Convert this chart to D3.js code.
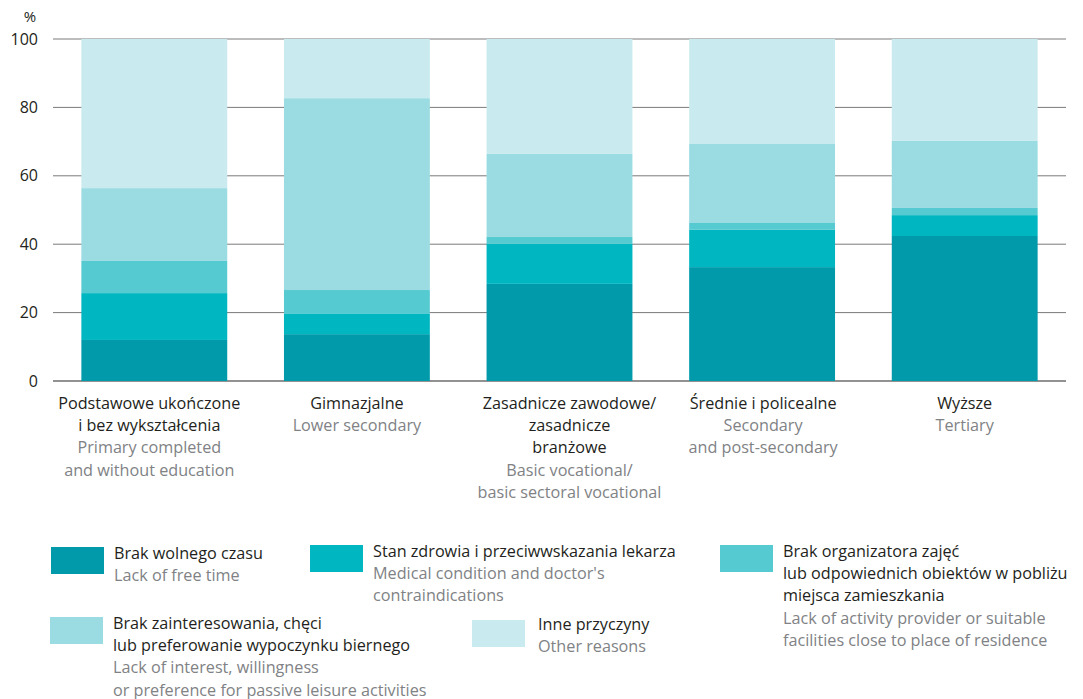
<!DOCTYPE html>
<html>
<head>
<meta charset="utf-8">
<script src="https://cdn.jsdelivr.net/npm/d3@7"></script>
<style>
  body { margin: 0; background: #fff; }
  svg { display: block; font-family: "Open Sans", sans-serif; }
</style>
</head>
<body>
<div id="vis"></div>
<script>
// categories (education level)
const categoriesPl = [
  ["Podstawowe ukończone", "i bez wykształcenia"],
  ["Gimnazjalne"],
  ["Zasadnicze zawodowe/", "zasadnicze", "branżowe"],
  ["Średnie i policealne"],
  ["Wyższe"]
];
const categoriesEn = [
  ["Primary completed", "and without education"],
  ["Lower secondary"],
  ["Basic vocational/", "basic sectoral vocational"],
  ["Secondary", "and post-secondary"],
  ["Tertiary"]
];

// series values, % (bottom to top)
const noFreeTime   = [12.0, 13.7, 28.4, 33.3, 42.4];
const health       = [13.7,  5.9, 11.7, 10.9,  6.1];
const noProvider   = [ 9.4,  7.0,  2.0,  2.0,  2.1];
const noInterest   = [21.3, 56.1, 24.3, 23.1, 19.6];
const otherReasons = [43.6, 17.3, 33.6, 30.7, 29.8];

const seriesKeys = ['noFreeTime', 'health', 'noProvider', 'noInterest', 'otherReasons'];
const seriesPl = [
  ["Brak wolnego czasu"],
  ["Stan zdrowia i przeciwwskazania lekarza"],
  ["Brak organizatora zajęć", "lub odpowiednich obiektów w pobliżu", "miejsca zamieszkania"],
  ["Brak zainteresowania, chęci", "lub preferowanie wypoczynku biernego"],
  ["Inne przyczyny"]
];
const seriesEn = [
  ["Lack of free time"],
  ["Medical condition and doctor's", "contraindications"],
  ["Lack of activity provider or suitable", "facilities close to place of residence"],
  ["Lack of interest, willingness", "or preference for passive leisure activities"],
  ["Other reasons"]
];

const yTicks = [0, 20, 40, 60, 80, 100];

const colors = ['#009aab', '#00b6c1', '#55cad1', '#9bdce2', '#c9ebef'];

const width = 1083;
const height = 699;

const svg = d3.select('#vis')
  .append('svg')
    .attr('width', width)
    .attr('height', height);

const rows = categoriesPl.map((c, i) => ({
  idx: i,
  noFreeTime: noFreeTime[i],
  health: health[i],
  noProvider: noProvider[i],
  noInterest: noInterest[i],
  otherReasons: otherReasons[i]
}));

const x = d3.scaleBand()
  .domain(rows.map(d => d.idx))
  .range([53, 1066])
  .paddingInner(0.28)
  .paddingOuter(0.14);

const y = d3.scaleLinear()
  .domain([0, 100])
  .range([381, 39]);

// gridlines
svg.append('g')
  .selectAll('line')
  .data(yTicks)
  .join('line')
    .attr('x1', 53)
    .attr('x2', 1066)
    .attr('y1', d => y(d))
    .attr('y2', d => y(d))
    .attr('stroke', d => d === 0 ? '#6e6e6e' : '#7a7a7a')
    .attr('stroke-width', d => d === 0 ? 1.6 : 1);

// y axis labels
const yAxis = svg.append('g')
  .attr('transform', 'translate(40,0)')
  .call(d3.axisLeft(y).tickValues(yTicks).tickSize(0).tickPadding(2));
yAxis.select('.domain').remove();
yAxis.selectAll('text')
  .attr('font-family', '"Open Sans", sans-serif')
  .attr('font-size', 16)
  .attr('fill', '#231f20');

svg.append('text')
  .attr('x', 30)
  .attr('y', 22)
  .attr('text-anchor', 'middle')
  .attr('font-size', 15)
  .attr('fill', '#231f20')
  .text('%');

// stacked bars
const stacked = d3.stack().keys(seriesKeys)(rows);

svg.append('g')
  .selectAll('g')
  .data(stacked)
  .join('g')
    .attr('fill', (d, i) => colors[i])
  .selectAll('rect')
  .data(d => d)
  .join('rect')
    .attr('x', d => x(d.data.idx))
    .attr('width', x.bandwidth())
    .attr('y', d => y(d[1]))
    .attr('height', d => y(d[0]) - y(d[1]));

// category labels (small horizontal nudges to match the original layout)
const labelShift = [-5, 0, 10, 1, 0];

const catG = svg.append('g')
  .selectAll('text')
  .data(rows)
  .join('text')
    .attr('y', 409)
    .attr('text-anchor', 'middle')
    .attr('font-size', 16.2);

catG.each(function(d) {
  const t = d3.select(this);
  const cx = x(d.idx) + x.bandwidth() / 2 + labelShift[d.idx];
  const lines = categoriesPl[d.idx].map(s => ({ s, c: '#231f20' }))
    .concat(categoriesEn[d.idx].map(s => ({ s, c: '#808285' })));
  lines.forEach((l, j) => {
    t.append('tspan')
      .attr('x', cx)
      .attr('dy', j === 0 ? 0 : 22.2)
      .attr('fill', l.c)
      .text(l.s);
  });
});

// legend
const legendPos = [[51, 547], [310, 545], [720, 545], [50, 617], [472, 620]];

const legend = svg.append('g')
  .selectAll('g')
  .data(seriesKeys)
  .join('g')
    .attr('transform', (d, i) => `translate(${legendPos[i][0]},${legendPos[i][1]})`);

legend.append('rect')
  .attr('width', 53)
  .attr('height', 27)
  .attr('fill', (d, i) => colors[i]);

legend.append('text')
  .attr('y', (d, i) => i === 4 ? 10 : 12)
  .attr('font-size', 16.2)
  .each(function(d, i) {
    const t = d3.select(this);
    const lines = seriesPl[i].map(s => ({ s, c: '#231f20' }))
      .concat(seriesEn[i].map(s => ({ s, c: '#808285' })));
    lines.forEach((l, j) => {
      t.append('tspan')
        .attr('x', i === 4 ? 66 : 63)
        .attr('dy', j === 0 ? 0 : 22.2)
        .attr('fill', l.c)
        .text(l.s);
    });
  });
</script>
</body>
</html>
